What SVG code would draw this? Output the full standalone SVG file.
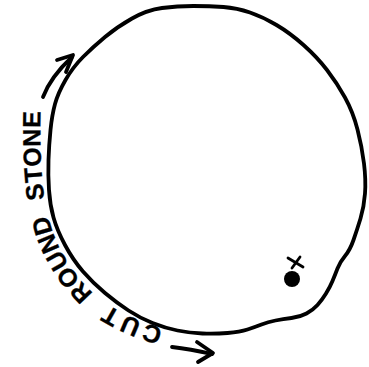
<svg xmlns="http://www.w3.org/2000/svg" width="369" height="367" viewBox="0 0 369 367">
<defs>
<style>
.ink{fill:none;stroke:#000;stroke-width:3.8;stroke-linecap:round;stroke-linejoin:round}
.lbl{font-family:"Liberation Sans",Arial,sans-serif;font-size:25px;font-weight:bold;fill:#000;stroke:#000;stroke-width:0.3}
</style>
<path id="tp" d="M 172,331 C 140,322 110,310 90,290 C 70,270 55,245 48,215 C 42,190 39,160 41,100"/>
</defs>
<rect width="369" height="367" fill="#fff"/>
<g id="stone">
<path class="ink" d="M 162,8 Q 177,6 193.5,6 Q 210,6 223.5,7 Q 237,8 250,12.5 Q 263,17 276.5,25 Q 290,33 303.5,45 Q 317,57 327,70 Q 337,83 345,97.5 Q 353,112 357.5,129.5 Q 362,147 364,163.5 Q 366,180 365,193.5 Q 364,207 360.5,218.5 Q 357,230 353.5,240 Q 350,250 345,256 Q 340,262 337.5,268.5 Q 335,275 332.5,281 Q 330,287 326,293.5 Q 322,300 317.5,305 Q 313,310 306.5,313.5 Q 300,317 291.5,318 Q 283,319 275.5,320.5 Q 268,322 261.5,324.5 Q 255,327 247.5,329.5 Q 240,332 227.5,333 Q 215,334 202.5,333.5 Q 190,333 177.5,330.5 Q 165,328 152.5,323 Q 140,318 128.5,310.5 Q 117,303 105,293 Q 93,283 83,271.5 Q 73,260 65,245 Q 57,230 53.5,217.5 Q 50,205 49,190 Q 48,175 48.5,160 Q 49,145 50.5,130 Q 52,115 55,104 Q 58,93 65.5,80 Q 73,67 83,57 Q 93,47 105,37 Q 117,27 132,18.5 Q 147,10 162,8 Z"/>
</g>
<g id="mark">
<circle cx="292" cy="279" r="8" fill="#000"/>
<path class="ink" style="stroke-width:2.8" d="M 288,258 L 303,267 M 300,257 L 292,268"/>
</g>
<g id="label">
<text class="lbl"><textPath href="#tp" startOffset="9" textLength="60" lengthAdjust="spacing">CUT</textPath></text>
<text class="lbl"><textPath href="#tp" startOffset="88" textLength="92" lengthAdjust="spacing">ROUND</textPath></text>
<text class="lbl"><textPath href="#tp" startOffset="196" textLength="88" lengthAdjust="spacing">STONE</textPath></text>
</g>
<g id="connectors">
<path class="ink" d="M 43,97 C 48,84 58,70 72,57"/>
<path class="ink" d="M 57,60 L 73,55 L 66,72"/>
<path class="ink" d="M 172,347 Q 190,349 212,354"/>
<path class="ink" d="M 197,342 L 213,353 L 198,362"/>
</g>
</svg>
